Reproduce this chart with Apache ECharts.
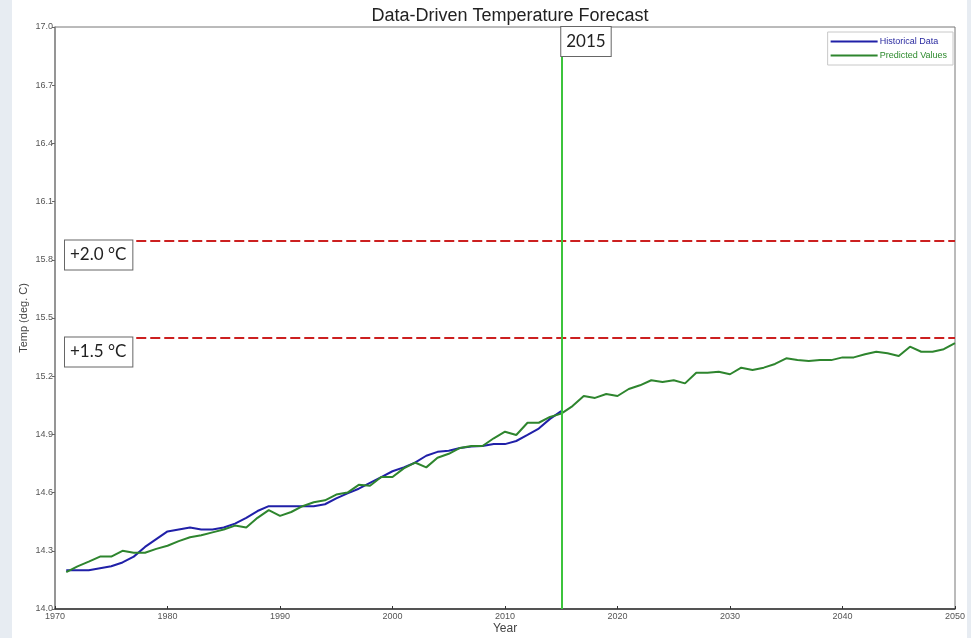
<!DOCTYPE html>
<html><head><meta charset="utf-8">
<script src="https://cdn.jsdelivr.net/npm/echarts@6/dist/echarts.min.js"></script>
<style>html,body{margin:0;padding:0;background:#e7ecf2;}#c{width:971px;height:638px;}</style>
</head><body><div id="c"></div>
<script>
const histStartYear = 1971;
const historical = [14.20,14.20,14.20,14.21,14.22,14.24,14.27,14.32,14.36,14.40,
  14.41,14.42,14.41,14.41,14.42,14.44,14.47,14.505,14.53,14.53,
  14.53,14.53,14.53,14.54,14.57,14.596,14.62,14.65,14.68,14.71,
  14.73,14.754,14.79,14.81,14.816,14.83,14.837,14.84,14.85,14.85,
  14.866,14.897,14.93,14.98,15.02];
const predStartYear = 1971;
const predicted = [14.19,14.22,14.244,14.27,14.27,14.30,14.29,14.29,14.31,14.326,
  14.35,14.37,14.38,14.395,14.41,14.43,14.42,14.47,14.51,14.48,
  14.50,14.53,14.55,14.56,14.59,14.60,14.64,14.635,14.68,14.68,
  14.725,14.755,14.73,14.78,14.80,14.83,14.84,14.84,14.88,14.914,
  14.897,14.96,14.96,14.99,15.007,15.046,15.098,15.088,15.108,15.098,
  15.134,15.153,15.179,15.17,15.179,15.163,15.218,15.218,15.223,15.21,
  15.244,15.232,15.244,15.263,15.292,15.283,15.278,15.283,15.283,15.297,
  15.297,15.313,15.326,15.318,15.304,15.352,15.326,15.326,15.339,15.37];
const thresholds = [15.9, 15.4];
const thresholdLabels = ['+2.0 °C', '+1.5 °C'];
const thresholdLineStart = 1971;
const markerYear = 2015;
const markerLabel = '2015';
const xTicks = [1970,1980,1990,2000,2010,2020,2030,2040,2050];
const yTicks = [14.0,14.3,14.6,14.9,15.2,15.5,15.8,16.1,16.4,16.7,17.0];

const toPairs = (start, arr) => arr.map((v, i) => [start + i, v]);

const chart = echarts.init(document.getElementById('c'));
const axisFont = {fontFamily: 'Liberation Sans, Arial', fontSize: 9, color: '#555'};
const panel = {type: 'rect', z: -10, silent: true, shape: {x: 12, y: 0, width: 955, height: 638}, style: {fill: '#ffffff'}};
chart.setOption({
  backgroundColor: '#e7ecf2',
  animation: false,
  graphic: [panel],
  title: {text: 'Data-Driven Temperature Forecast', left: 505, textAlign: 'center', top: 2,
    textStyle: {fontFamily: 'Liberation Sans, Arial', fontSize: 18, fontWeight: 'normal', color: '#222'}},
  legend: {
    right: 18, top: 32, orient: 'vertical', icon: 'rect', itemWidth: 47, itemHeight: 2, itemGap: 5,
    borderColor: '#c8c8c8', borderWidth: 1, padding: [5, 6, 5, 3], backgroundColor: '#fff',
    textStyle: {fontFamily: 'Liberation Sans, Arial', fontSize: 9, padding: [0, 0, 0, -3]},
    data: [{name: 'Historical Data', textStyle: {color: '#2a2aa0'}},
           {name: 'Predicted Values', textStyle: {color: '#2e8b2e'}}]
  },
  grid: {left: 55, right: 16, top: 27, bottom: 29, show: true, borderColor: '#777', borderWidth: 1,
    containLabel: false, outerBoundsMode: 'none'},
  xAxis: {
    type: 'value', min: xTicks[0], max: xTicks[xTicks.length - 1], interval: 10,
    name: 'Year', nameLocation: 'middle', nameGap: 14, nameMoveOverlap: false,
    nameTextStyle: {fontFamily: 'Liberation Sans, Arial', fontSize: 12, color: '#444'},
    axisLine: {lineStyle: {color: '#333', width: 1.5}},
    axisTick: {show: true, length: 3, inside: true, lineStyle: {color: '#333'}},
    axisLabel: Object.assign({margin: 3, formatter: v => String(v)}, axisFont),
    splitLine: {show: false}
  },
  yAxis: {
    type: 'value', min: yTicks[0], max: yTicks[yTicks.length - 1], interval: 0.3,
    name: 'Temp (deg. C)', nameLocation: 'middle', nameGap: 26, nameMoveOverlap: false,
    nameTextStyle: {fontFamily: 'Liberation Sans, Arial', fontSize: 11, color: '#444'},
    axisLine: {show: true, lineStyle: {color: '#888', width: 1.5}},
    axisTick: {show: true, length: 3, lineStyle: {color: '#666'}},
    axisLabel: Object.assign({margin: 2, formatter: v => v.toFixed(1)}, axisFont),
    splitLine: {show: false}
  },
  series: [
    {name: 'Historical Data', type: 'line', data: toPairs(histStartYear, historical), showSymbol: false,
      lineStyle: {color: '#2020a8', width: 2}, itemStyle: {color: '#2020a8'}, z: 3},
    {name: 'Predicted Values', type: 'line', data: toPairs(predStartYear, predicted), showSymbol: false,
      lineStyle: {color: '#2e852e', width: 2}, itemStyle: {color: '#2e852e'}, z: 4,
      markLine: {
        silent: true, symbol: 'none', label: {show: false}, animation: false,
        data: [
          [{coord: [thresholdLineStart, thresholds[0]], lineStyle: {color: '#cc2020', width: 2, type: [10, 4]}},
           {coord: [xTicks[xTicks.length - 1], thresholds[0]]}],
          [{coord: [thresholdLineStart, thresholds[1]], lineStyle: {color: '#cc2020', width: 2, type: [10, 4]}},
           {coord: [xTicks[xTicks.length - 1], thresholds[1]]}],
          {xAxis: markerYear, lineStyle: {color: '#3cc43c', width: 2, type: 'solid'}}
        ]
      }}
  ]
});

function boxes() {
  const g = [panel];
  const boxFont = '17px Lato, "Open Sans", sans-serif';
  thresholds.forEach((t, i) => {
    const p = chart.convertToPixel({gridIndex: 0}, [xTicks[0], t]);
    g.push({type: 'text', z: 100, x: p[0] + 10, y: p[1],
      style: {text: thresholdLabels[i], font: boxFont, fill: '#222', backgroundColor: '#fff',
        borderColor: '#666', borderWidth: 1, padding: [6, 6, 6, 5]}});
  });
  const q = chart.convertToPixel({gridIndex: 0}, [markerYear, yTicks[yTicks.length - 1]]);
  g.push({type: 'text', z: 100, x: q[0], y: q[1],
    style: {text: markerLabel, font: boxFont, fill: '#222', backgroundColor: '#fff',
      borderColor: '#666', borderWidth: 1, padding: [6, 5, 6, 5]}});
  chart.setOption({graphic: g}, {replaceMerge: ['graphic']});
}
boxes();
</script></body></html>
